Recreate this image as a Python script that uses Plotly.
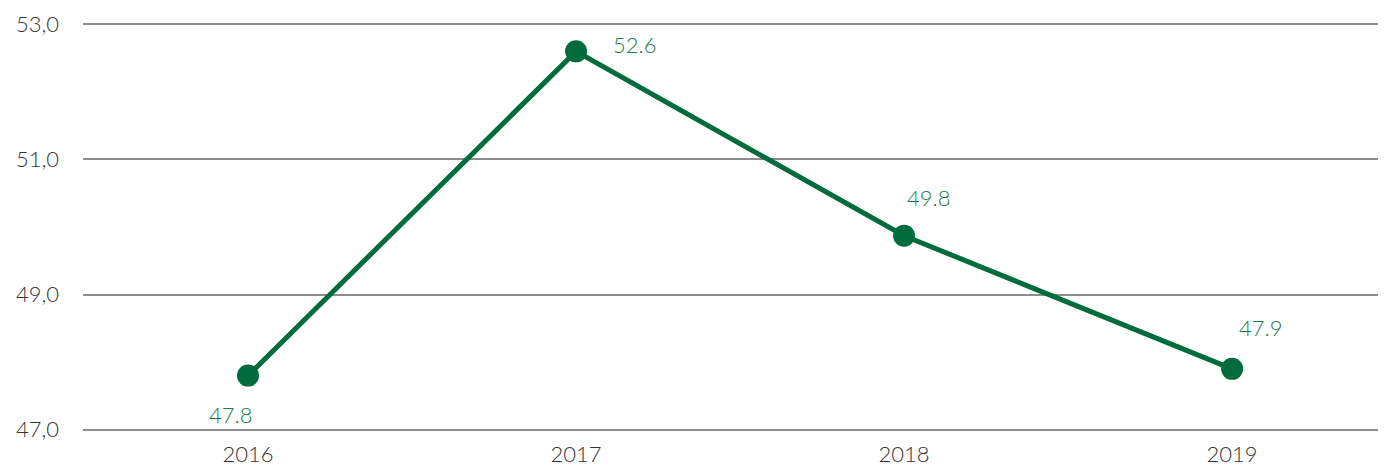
import plotly.graph_objects as go

years = ["2016", "2017", "2018", "2019"]
values = [47.8, 52.6, 49.87, 47.9]
label_text = ["47.8", "52.6", "49.8", "47.9"]
y_ticks = [47, 49, 51, 53]
y_tick_labels = ["47,0", "49,0", "51,0", "53,0"]

label_shift_x = [-18, 58, 24, 28]
label_shift_y = [-39, 7, 38, 41]

line_color = "#006b3c"
label_color = "#1d7a4e"
FONT = "Lato"

fig = go.Figure()
fig.add_trace(go.Scatter(
    x=years, y=values, mode="lines+markers",
    line=dict(color=line_color, width=5),
    marker=dict(color=line_color, size=22),
    hoverinfo="skip",
))

for i, (yv, t, dx, dy) in enumerate(zip(values, label_text, label_shift_x, label_shift_y)):
    fig.add_annotation(x=i, y=yv, xref="x", yref="y", text=t, showarrow=False,
                       xshift=dx, yshift=dy,
                       font=dict(family=FONT, size=22, color=label_color, weight=300))

fig.update_layout(
    width=1378, height=465,
    margin=dict(l=75, r=3, t=15, b=42, autoexpand=False),
    paper_bgcolor="white", plot_bgcolor="white",
    showlegend=False,
    font=dict(family=FONT, size=22, color="#333333", weight=300),
    xaxis=dict(type="category", range=[-0.503, 3.46], showgrid=False,
               showline=False, zeroline=False, automargin=False,
               ticks="", ticklabelstandoff=8),
    yaxis=dict(range=[46.98, 53.02], tickvals=y_ticks, ticktext=y_tick_labels,
               showgrid=True, gridcolor="#8c8c8c", gridwidth=1.5,
               zeroline=False, showline=False, automargin=False,
               ticks="", ticklabelstandoff=23),
)

fig.write_html("out.html")
